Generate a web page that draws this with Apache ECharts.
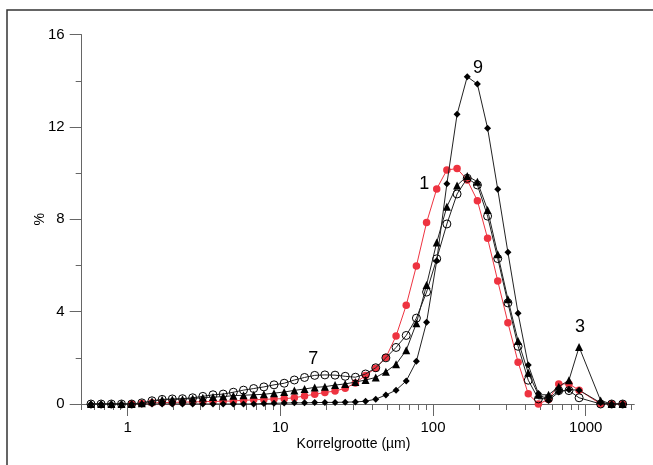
<!DOCTYPE html>
<html>
<head>
<meta charset="utf-8">
<script src="https://cdn.jsdelivr.net/npm/echarts@6.0.0/dist/echarts.min.js"></script>
<style>
  html, body { margin: 0; padding: 0; background: #fff; }
  #chart { width: 653px; height: 465px; }
</style>
</head>
<body>
<div id="chart"></div>
<script>
// korrelgrootte (um)
var sizes = [0.575, 0.670, 0.782, 0.911, 1.062, 1.238, 1.443, 1.682, 1.961, 2.286,
  2.665, 3.107, 3.622, 4.222, 4.922, 5.737, 6.688, 7.797, 9.089, 10.60,
  12.35, 14.40, 16.79, 19.57, 22.81, 26.59, 31.00, 36.14, 42.13, 49.11,
  57.25, 66.74, 77.80, 90.69, 105.7, 123.2, 143.7, 167.5, 195.2, 227.6,
  265.3, 309.3, 360.5, 420.3, 489.9, 571.1, 665.8, 776.1, 904.7, 1252,
  1478, 1745]

// % per class, sample 1 (red)
var sample1 = [null, null, null, null, 0, 0.02, 0.05, 0.06, 0.07, 0.08,
  0.09, 0.10, 0.11, 0.12, 0.13, 0.16, 0.18, 0.20, 0.22, 0.23,
  0.27, 0.35, 0.42, 0.50, 0.56, 0.68, 0.91, 1.24, 1.55, 2.01,
  2.95, 4.28, 5.98, 7.86, 9.32, 10.14, 10.20, 9.70, 8.81, 7.18,
  5.33, 3.52, 1.81, 0.44, 0.00, 0.20, 0.87, 0.87, 0.60, 0,
  0, 0]
// sample 7 (open circles)
var sample7 = [0, 0, 0, 0, 0, 0.05, 0.14, 0.20, 0.22, 0.23,
  0.27, 0.33, 0.40, 0.43, 0.51, 0.60, 0.67, 0.74, 0.83, 0.90,
  1.04, 1.15, 1.24, 1.26, 1.25, 1.20, 1.16, 1.30, 1.57, 2.00,
  2.45, 2.97, 3.72, 4.85, 6.29, 7.80, 9.10, 9.78, 9.49, 8.14,
  6.30, 4.38, 2.50, 1.03, 0.22, 0.24, 0.58, 0.58, 0.27, 0,
  0, 0]
// sample 3 (triangles)
var sample3 = [0, 0, 0, 0, 0, 0.03, 0.12, 0.18, 0.20, 0.21,
  0.24, 0.27, 0.30, 0.32, 0.36, 0.38, 0.40, 0.42, 0.47, 0.52,
  0.59, 0.65, 0.72, 0.75, 0.82, 0.87, 0.95, 1.04, 1.15, 1.40,
  1.72, 2.33, 3.50, 5.16, 7.00, 8.55, 9.47, 9.88, 9.63, 8.41,
  6.49, 4.54, 2.73, 1.35, 0.40, 0.40, 0.75, 1.03, 2.47, 0.15,
  0, 0]
// sample 9 (diamonds)
var sample9 = [0, 0, 0, 0, 0, 0, 0, 0, 0, 0,
  0, 0, 0, 0, 0, 0, 0, 0.02, 0.03, 0.04,
  0.05, 0.05, 0.06, 0.07, 0.07, 0.08, 0.09, 0.12, 0.21, 0.39,
  0.60, 1.00, 1.85, 3.54, 6.21, 9.54, 12.55, 14.18, 13.86, 11.95,
  9.30, 6.57, 3.93, 1.69, 0.45, 0.15, 0.52, 0.62, 0.60, 0.05,
  0, 0]

var majorTicks = [1, 10, 100, 1000]
var minorTicks = [0.5, 0.6, 0.7, 0.8, 0.9, 2, 3, 4, 5, 6, 7, 8, 9,
  20, 30, 40, 50, 60, 70, 80, 90, 200, 300, 400, 500, 600, 700, 800, 900, 2000]

// curve labels: text, x, y
var tagText = ['1', '7', '3', '9']
var tagX = [87.6, 16.4, 916, 196.8]
var tagY = [9.52, 1.94, 3.35, 14.55]

function pairs(ys) {
  var out = []
  for (var i = 0; i < sizes.length; i++) {
    if (ys[i] !== null) out.push([sizes[i], ys[i]])
  }
  return out
}

function tag(k) {
  return {
    symbol: 'circle',
    symbolSize: 0,
    silent: true,
    label: { show: true, position: 'inside', formatter: tagText[k], fontSize: 18, color: '#000', fontFamily: 'Liberation Sans' },
    data: [{ coord: [tagX[k], tagY[k]] }]
  }
}

var axisGrey = '#666'
var chart = echarts.init(document.getElementById('chart'), null, { renderer: 'canvas' })

var option = {
  animation: false,
  backgroundColor: '#fff',
  textStyle: { fontFamily: 'Liberation Sans' },
  grid: { left: 81.7, top: 34.7, right: 18.7, bottom: 61, containLabel: false },
  graphic: [{
    type: 'rect',
    silent: true,
    shape: { x: 7, y: 10, width: 700, height: 520 },
    style: { fill: 'none', stroke: '#333', lineWidth: 1.5 }
  }],
  xAxis: [
    {
      type: 'log',
      logBase: 10,
      min: 0.5,
      max: 2080,
      position: 'bottom',
      name: 'Korrelgrootte (µm)',
      nameLocation: 'middle',
      nameGap: 33,
      nameMoveOverlap: false,
      nameTextStyle: { fontSize: 14, color: '#000', padding: [0, 9, 0, 0] },
      axisLine: { lineStyle: { color: axisGrey, width: 1 } },
      axisTick: { show: true, customValues: majorTicks, length: 12, lineStyle: { color: axisGrey } },
      axisLabel: { customValues: majorTicks, fontSize: 15, color: '#000', margin: 16, formatter: function (v) { return String(v) } },
      splitLine: { show: false },
      minorTick: { show: false }
    },
    {
      type: 'log',
      logBase: 10,
      min: 0.5,
      max: 2080,
      position: 'bottom',
      axisLine: { show: false },
      axisTick: { show: true, customValues: minorTicks, length: 6, lineStyle: { color: axisGrey } },
      axisLabel: { show: false },
      splitLine: { show: false }
    }
  ],
  yAxis: {
    type: 'value',
    min: 0,
    max: 16,
    interval: 4,
    name: '%',
    nameLocation: 'middle',
    nameRotate: 90,
    nameGap: 35,
    nameMoveOverlap: false,
    nameTextStyle: { fontSize: 14, color: '#000' },
    axisLine: { show: true, lineStyle: { color: axisGrey, width: 1 } },
    axisTick: { show: true, length: 12, lineStyle: { color: axisGrey } },
    minorTick: { show: true, splitNumber: 2, length: 6, lineStyle: { color: axisGrey } },
    axisLabel: { fontSize: 15, color: '#000', margin: 17 },
    splitLine: { show: false }
  },
  series: [
    {
      name: '1',
      type: 'line',
      data: pairs(sample1),
      symbol: 'circle',
      symbolSize: 7.5,
      itemStyle: { color: '#ee3340' },
      lineStyle: { color: '#ee3340', width: 1 },
      markPoint: tag(0),
      z: 2
    },
    {
      name: '7',
      type: 'line',
      data: pairs(sample7),
      symbol: 'circle',
      symbolSize: 8,
      itemStyle: { color: 'rgba(0,0,0,0)', borderColor: '#000', borderWidth: 1 },
      lineStyle: { color: '#222', width: 1 },
      markPoint: tag(1),
      z: 3
    },
    {
      name: '3',
      type: 'line',
      data: pairs(sample3),
      symbol: 'triangle',
      symbolSize: 8,
      itemStyle: { color: '#000' },
      lineStyle: { color: '#222', width: 1 },
      markPoint: tag(2),
      z: 4
    },
    {
      name: '9',
      type: 'line',
      data: pairs(sample9),
      symbol: 'diamond',
      symbolSize: 7,
      itemStyle: { color: '#000' },
      lineStyle: { color: '#222', width: 1 },
      markPoint: tag(3),
      z: 5
    }
  ]
}
chart.setOption(option)
</script>
</body>
</html>
